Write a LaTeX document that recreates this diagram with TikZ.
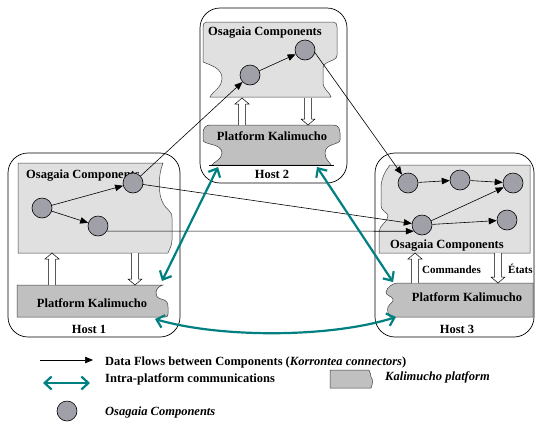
\documentclass[tikz,border=0pt]{standalone}
\usepackage{fontspec}
\setmainfont{Liberation Serif}
\usetikzlibrary{arrows.meta}
\definecolor{osagray}{RGB}{224,224,224}
\definecolor{platgray}{RGB}{192,192,192}
\definecolor{compgray}{RGB}{160,160,168}
\definecolor{tealc}{RGB}{0,128,128}
\newcommand{\hollowarrow}[3]{%
 \pgfmathsetmacro\hay{#3>#2 ? #3-6 : #3+6}%
 \draw[line width=0.5pt,fill=white] ({#1-3.5},#2) -- ({#1-3.5},\hay) -- ({#1-7},\hay) -- (#1,#3) -- ({#1+7},\hay) -- ({#1+3.5},\hay) -- ({#1+3.5},#2);}
\begin{document}
\begin{tikzpicture}[x=1pt,y=-1pt,
 comp/.style={circle,draw=black,line width=0.6pt,fill=compgray,minimum size=20pt,inner sep=0pt},
 hostbox/.style={draw=black,line width=0.7pt,rounded corners=20pt},
 osagaia/.style={fill=osagray,draw=black!75,line width=0.5pt},
 platform/.style={fill=platgray,draw=black!75,line width=0.5pt},
 flow/.style={-{Triangle[length=8pt,width=6.5pt]},line width=0.6pt},
 intra/.style={{Straight Barb[length=7pt,width=13pt]}-{Straight Barb[length=7pt,width=13pt]},draw=tealc,line width=2.2pt},
 lbl/.style={font=\fontsize{12.5}{14}\selectfont\bfseries,inner sep=0pt},
 slbl/.style={font=\fontsize{11}{13}\selectfont\bfseries,inner sep=0pt},
 ilbl/.style={font=\fontsize{12.5}{14}\selectfont\bfseries\itshape,inner sep=0pt},
]
\useasboundingbox (0,0) rectangle (537,421);

% host boxes
\draw[hostbox] (200,8) rectangle (347,183);
\draw[hostbox] (8,153) rectangle (180,337);
\draw[hostbox] (375,153) rectangle (534,337);

% Osagaia areas
\path[osagaia] (207,22) -- (333,22) .. controls (336,22) and (337,24) .. (337,27) -- (337,55)
  .. controls (337,62) and (324,60) .. (323,68) -- (323,82)
  .. controls (323,90) and (330,92) .. (331,97) -- (210,97)
  .. controls (212,92) and (222,88) .. (222,78)
  .. controls (222,68) and (210,65) .. (203,62) -- (203,27)
  .. controls (203,24) and (204,22) .. (207,22) -- cycle;
\path[osagaia] (18,163) -- (163,163) .. controls (158,175) and (158,195) .. (163,203)
  .. controls (166,210) and (172,210) .. (172,218) -- (172,240)
  .. controls (172,246) and (169,250) .. (168,253) -- (18,253) -- cycle;
\path[osagaia] (390,165) -- (530,165) -- (530,253) -- (379,253) -- (379,232)
  .. controls (379,225) and (388,222) .. (388,216)
  .. controls (388,212) and (381,212) .. (381,205) -- (381,188)
  .. controls (381,178) and (386,170) .. (390,165) -- cycle;

% platforms
\path[platform] (210,125) -- (333,125) .. controls (338,125) and (340,128) .. (340,133) -- (340,140)
  .. controls (340,145) and (325,143) .. (325,153)
  .. controls (325,160) and (330,162) .. (331,165) -- (212,165)
  .. controls (213,162) and (222,160) .. (222,153)
  .. controls (222,143) and (203,145) .. (203,140) -- (203,133)
  .. controls (203,128) and (206,125) .. (210,125) -- cycle;
\draw[line width=0.7pt] (209,165) -- (334,165);
\path[platform] (17,285) -- (163,285) .. controls (155,287) and (153,297) .. (161,299)
  .. controls (167,300) and (168,303) .. (168,307) -- (168,314)
  .. controls (168,316) and (167,317) .. (165,317) -- (17,317) -- cycle;
\path[platform] (398,283) -- (533,283) -- (533,317) -- (390,317)
  .. controls (388,314) and (387,310) .. (388,307)
  .. controls (390,303) and (394,302) .. (393,299)
  .. controls (392,296) and (386,296) .. (386,292)
  .. controls (387,287) and (393,283) .. (398,283) -- cycle;

% hollow arrows between Osagaia and platform
\hollowarrow{242}{125}{98}
\hollowarrow{308}{98}{125}
\hollowarrow{52}{285}{253}
\hollowarrow{135}{253}{285}
\hollowarrow{415}{283}{253}
\hollowarrow{498}{253}{283}

% texts
\node[lbl,anchor=base west] (o2) at (208,35) {Osagaia Components};
\node[lbl,anchor=base west] (o1) at (26,178) {Osagaia Components};
\node[lbl,anchor=base west] (o3) at (390,248) {Osagaia Components};
\node[lbl,anchor=base] (p2) at (272,140) {Platform Kalimucho};
\node[lbl,anchor=base] (p1) at (92,307) {Platform Kalimucho};
\node[lbl,anchor=base] (p3) at (467,301) {Platform Kalimucho};
\node[lbl,anchor=base] (hl2) at (272,178) {Host 2};
\node[lbl,anchor=base] (hl1) at (89,333) {Host 1};
\node[lbl,anchor=base] (hl3) at (457,333) {Host 3};
\node[slbl,anchor=base west] (cmd) at (422,273) {Commandes};
\node[slbl,anchor=base west] (eta) at (508,273) {États};

% components
\node[comp] (h2a) at (250,75) {};
\node[comp] (h2b) at (305,50) {};
\node[comp] (h1a) at (42,208) {};
\node[comp] (h1b) at (133,183) {};
\node[comp] (h1c) at (98,226) {};
\node[comp] (h3a) at (408,183) {};
\node[comp] (h3b) at (460,180) {};
\node[comp] (h3c) at (513,183) {};
\node[comp] (h3d) at (422,225) {};
\node[comp] (h3e) at (507,220) {};

% data flows
\draw[flow] (h2a) -- (h2b);
\draw[flow] (h1a) -- (h1b);
\draw[flow] (h1a) -- (h1c);
\draw[flow] (h3a) -- (h3b);
\draw[flow] (h3b) -- (h3c);
\draw[flow] (h3d) -- (h3c);
\draw[flow] (h3d) -- (h3e);
\draw[flow] (h1b) -- (h2a);
\draw[flow] (h2b.-15) -- (h3a);
\draw[flow] (h1b) -- (h3d);
\draw[flow] (h1c.-30) -- (h3d.217);

% intra-platform communications
\coordinate (t2l) at (218,167);
\coordinate (t1r) at (162,281);
\coordinate (t2r) at (317,167);
\coordinate (t3l) at (393,282);
\coordinate (t1b) at (155,319);
\coordinate (t3b) at (396,317);
\draw[intra] (t2l) -- (t1r);
\draw[intra] (t2r) -- (t3l);
\draw[intra] (t1b) .. controls (220,338) and (330,338) .. (t3b);

% legend
\coordinate (lf1) at (40,360);
\coordinate (lf2) at (93,360);
\draw[flow] (lf1) -- (lf2);
\node[lbl,anchor=base west] (ld) at (105,365) {Data Flows between Components (\textit{Korrontea connectors})};
\coordinate (li1) at (43,383);
\coordinate (li2) at (90,383);
\draw[intra] (li1) -- (li2);
\node[lbl,anchor=base west] (lic) at (105,382) {Intra-platform communications};
\path[platform] (330,370) -- (369,370) .. controls (371,372) and (370,375) .. (371,377)
  .. controls (373,379) and (373,383) .. (371,388) -- (330,388) -- cycle;
\node[ilbl,anchor=base west] (lk) at (385,380) {Kalimucho platform};
\node[comp] (legc) at (67,411) {};
\node[ilbl,anchor=base west] (lo) at (105,415) {Osagaia Components};
\end{tikzpicture}
\end{document}
